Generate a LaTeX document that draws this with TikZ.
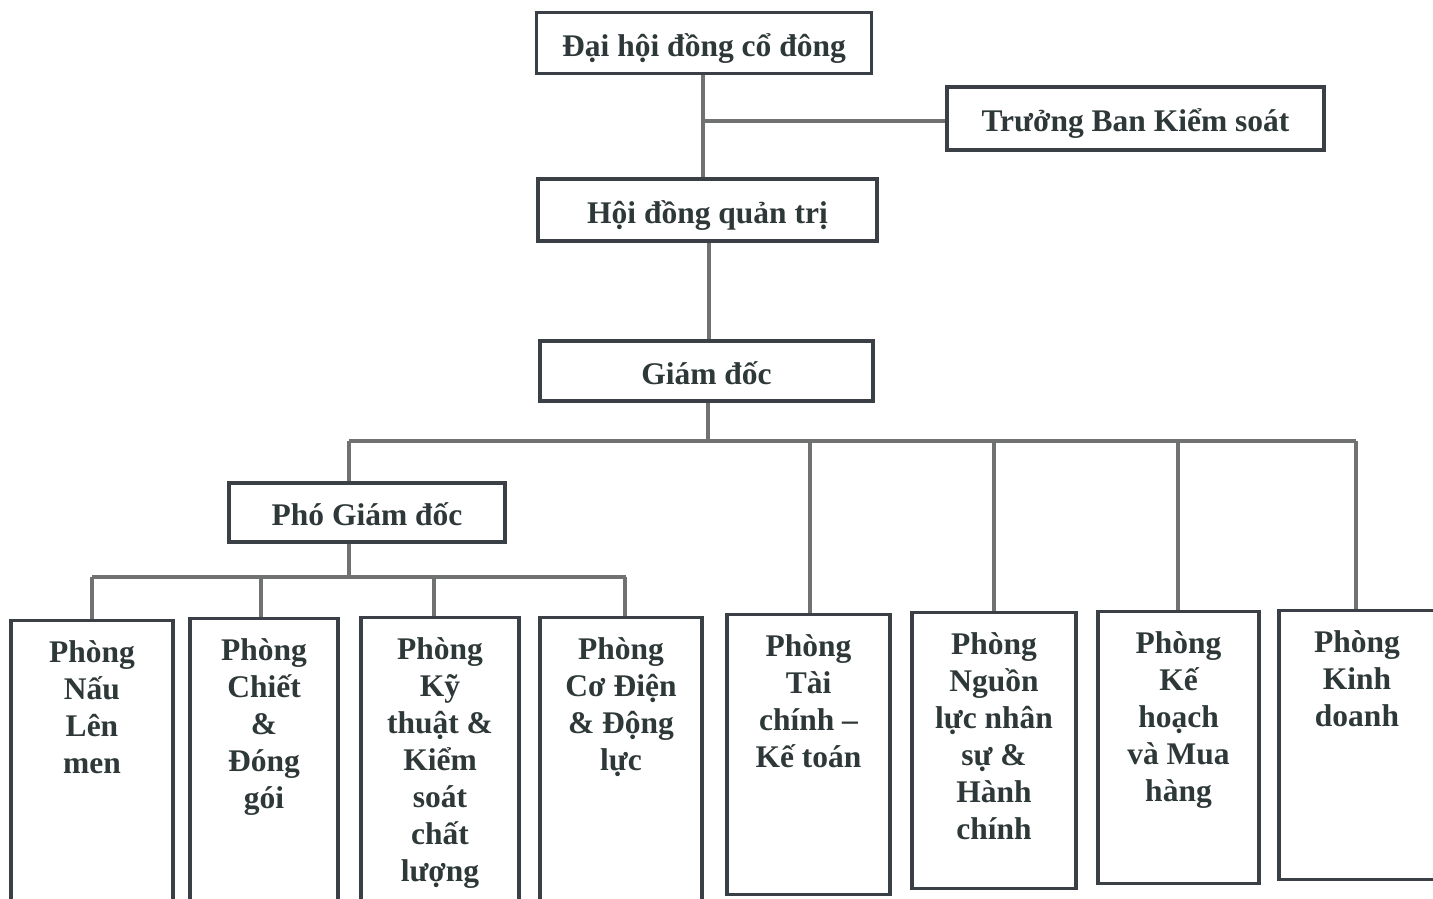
\documentclass[tikz,border=0pt]{standalone}
\usepackage{fontspec}
\setmainfont{Liberation Serif}
\definecolor{txt}{HTML}{2F3838}
\definecolor{brd}{HTML}{3A4045}
\definecolor{con}{HTML}{707272}
\newcommand{\dept}[3]{\parbox[c][#2pt][t]{#1pt}{\centering\vspace*{20pt}#3\par}}
\begin{document}
\begin{tikzpicture}[x=1pt,y=-1pt,
  every node/.style={font=\bfseries\fontsize{31.5}{37}\selectfont, text=txt},
  box/.style={draw=brd, line width=3.2pt, rectangle, inner sep=0pt, fill=white},
  tbox/.style={box, text height=27pt, text depth=1pt},
  dbox/.style={box, anchor=north},
  conn/.style={draw=con, line width=3.3pt}]
\useasboundingbox (0,0) rectangle (1433,898);
% top level
\node[tbox, minimum width=335, minimum height=61] (dh) at (704,43) {Đại hội đồng cổ đông};
\node[tbox, minimum width=377, minimum height=63] (tb) at (1135.5,118.5) {Trưởng Ban Kiểm soát};
\node[tbox, minimum width=339, minimum height=62] (hd) at (707.5,210) {Hội đồng quản trị};
\node[tbox, minimum width=333, minimum height=60] (gd) at (706.5,371) {Giám đốc};
\node[tbox, minimum width=276, minimum height=59] (pho) at (367,512.5) {Phó Giám đốc};
% departments
\node[dbox] (p1) at (92,619) {\dept{162}{281}{Phòng\\Nấu\\Lên\\men}};
\node[dbox] (p2) at (264,617) {\dept{148}{283}{Phòng\\Chiết\\\&\\Đóng\\gói}};
\node[dbox] (p3) at (440,616) {\dept{158}{284}{Phòng\\Kỹ\\thuật \&\\Kiểm\\soát\\chất\\lượng}};
\node[dbox] (p4) at (621,616) {\dept{162}{284}{Phòng\\Cơ Điện\\\& Động\\lực}};
\node[dbox] (p5) at (808.5,613) {\dept{163}{280}{Phòng\\Tài\\chính –\\Kế toán}};
\node[dbox] (p6) at (994,611) {\dept{164}{276}{Phòng\\Nguồn\\lực nhân\\sự \&\\Hành\\chính}};
\node[dbox] (p7) at (1178.5,610) {\dept{161}{272}{Phòng\\Kế\\hoạch\\và Mua\\hàng}};
\node[dbox] (p8) at (1357,609) {\dept{156}{269}{Phòng\\Kinh\\doanh}};
% junction coordinates
\coordinate (j1) at (703,121);
\coordinate (j2) at (708,441);
\coordinate (bl) at (349,441);
\coordinate (br) at (1356,441);
\coordinate (j3) at (349,577);
\coordinate (cl) at (92,577);
\coordinate (cr) at (626,577);
% connectors
\draw[conn] ([xshift=-1]dh.south) -- ([xshift=-4.5]hd.north);
\draw[conn] (j1) -- (j1 -| tb.west);
\draw[conn] ([xshift=1.5]hd.south) -- ([xshift=2.5]gd.north);
\draw[conn] ([xshift=1.5]gd.south) -- (j2);
\draw[conn] (bl) -- (br);
\draw[conn] (bl) -- ([xshift=-18]pho.north);
\draw[conn] (bl -| p5.north) ++(1.5,0) -- ([xshift=1.5]p5.north);
\draw[conn] (bl -| p6.north) -- (p6.north);
\draw[conn] (bl -| p7.north) ++(-0.5,0) -- ([xshift=-0.5]p7.north);
\draw[conn] (br) -- ([xshift=-1]p8.north);
\draw[conn] ([xshift=-18]pho.south) -- (j3);
\draw[conn] (cl) -- (cr);
\draw[conn] (cl) -- (p1.north);
\draw[conn] ([xshift=-3]j3 -| p2.north) -- ([xshift=-3]p2.north);
\draw[conn] ([xshift=-6]j3 -| p3.north) -- ([xshift=-6]p3.north);
\draw[conn] ([xshift=4]j3 -| p4.north) -- ([xshift=4]p4.north);
\end{tikzpicture}
\end{document}
